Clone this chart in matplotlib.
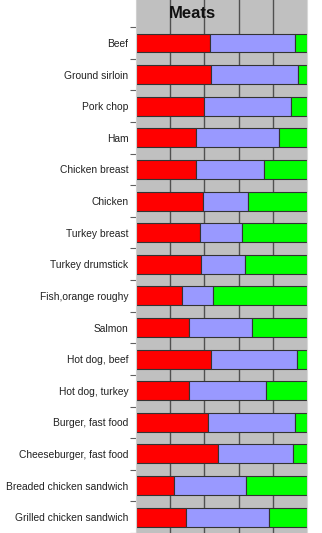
import numpy as np
import matplotlib
matplotlib.use("Agg")
import matplotlib.pyplot as plt

# percentage split of each food, three segments per bar
foods = [
    "Beef", "Ground sirloin", "Pork chop", "Ham", "Chicken breast",
    "Chicken", "Turkey breast", "Turkey drumstick", "Fish,orange roughy",
    "Salmon", "Hot dog, beef", "Hot dog, turkey", "Burger, fast food",
    "Cheeseburger, fast food", "Breaded chicken sandwich",
    "Grilled chicken sandwich",
]
red_pct = [43, 44, 40, 35, 35, 39, 37.5, 38, 27, 31, 44, 31, 42, 48, 22, 29.5]
blue_pct = [50, 51, 50.5, 48.5, 40, 26.5, 24.5, 26, 18, 37, 50, 45, 51, 44, 42.5, 48]
green_pct = [7, 5, 9.5, 16.5, 25, 34.5, 38, 36, 55, 32, 6, 24, 7, 8, 35.5, 22.5]

plt.rcParams["font.family"] = ["Liberation Sans", "DejaVu Sans"]

fig = plt.figure(figsize=(3.22, 5.33), dpi=100)
ax = fig.add_axes([136 / 322, 0.0, 171 / 322, 1.0])
ax.set_facecolor("#c0c0c0")

y = np.arange(len(foods))
red = np.array(red_pct)
blue = np.array(blue_pct)
green = np.array(green_pct)

kw = dict(height=0.6, edgecolor="#333333", linewidth=0.8)
ax.barh(y, red, color="#ff0000", **kw)
ax.barh(y, blue, left=red, color="#9999ff", **kw)
ax.barh(y, green, left=red + blue, color="#00ff00", **kw)

ax.set_xlim(0, 100)
ax.set_ylim(len(foods) - 1 + 0.47, -1.36)
ax.set_xticks([20, 40, 60, 80])
ax.xaxis.grid(True, color="#505050", linewidth=1.0)
ax.set_axisbelow(True)
ax.tick_params(axis="x", length=0, labelbottom=False)

ax.set_yticks(y)
ax.set_yticklabels(foods, fontsize=7.4, color="#222222")
ax.tick_params(axis="y", which="major", length=0, pad=5.5)
ax.set_yticks(np.arange(-0.5, len(foods), 1.0), minor=True)
ax.tick_params(axis="y", which="minor", length=4, color="#606060", width=0.8)

for side in ["top", "bottom"]:
    ax.spines[side].set_visible(False)
ax.spines["left"].set_color("#d0d0d0")
ax.spines["right"].set_color("#d8d8d8")

ax.text(33, -0.92, "Meats", fontsize=12, fontweight="bold",
        ha="center", va="center", color="#111111")

fig.savefig("out.png", dpi=100)
